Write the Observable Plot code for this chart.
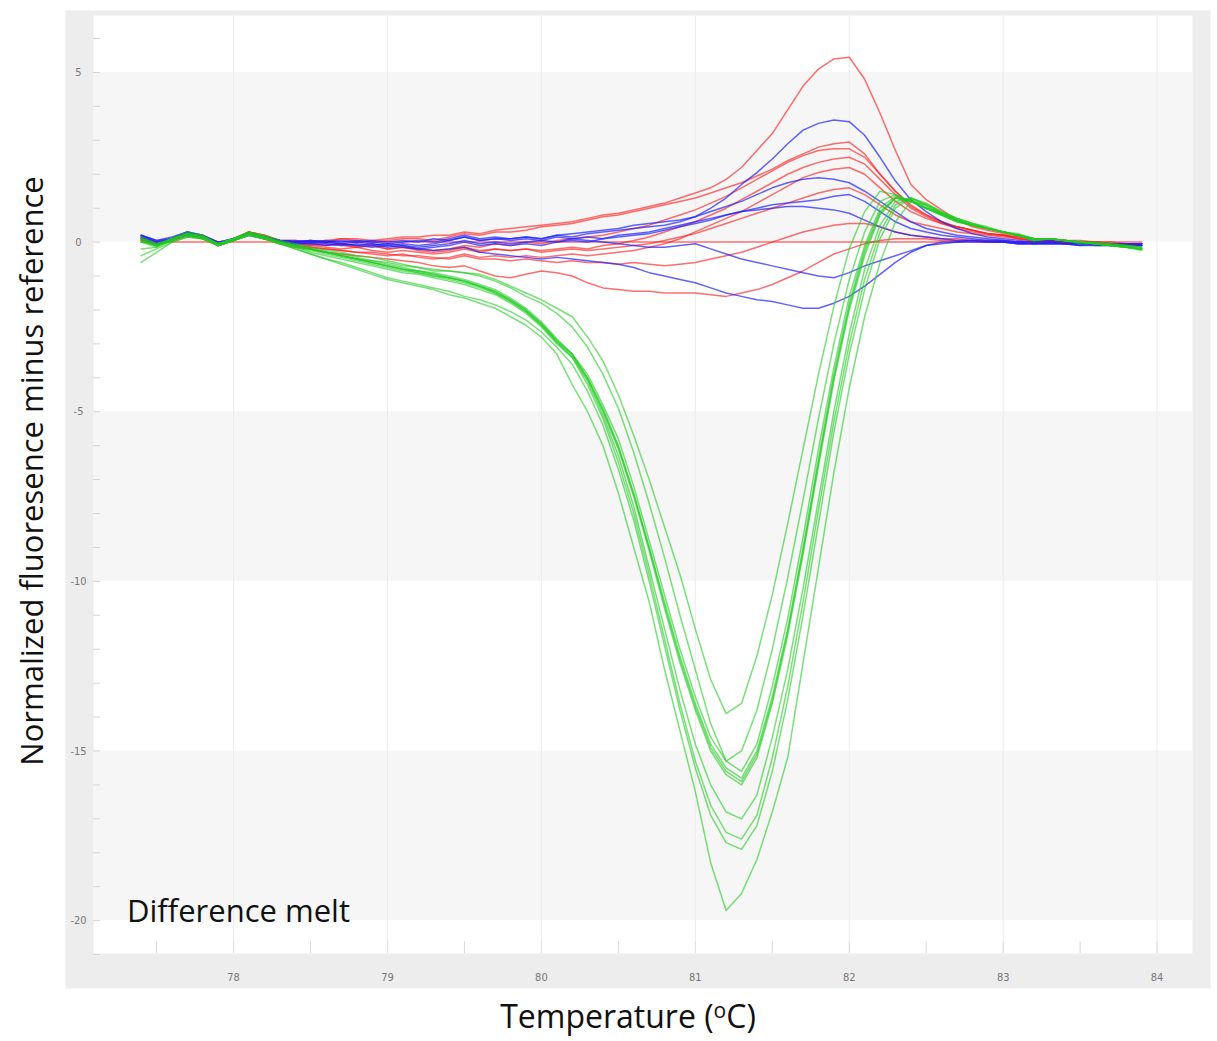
<!DOCTYPE html>
<html><head><meta charset="utf-8">
<script src="https://cdn.jsdelivr.net/npm/d3@7"></script>
<script src="https://cdn.jsdelivr.net/npm/@observablehq/plot@0.6"></script>
<style>body{margin:0;background:#fff;} #chart svg{display:block;}</style>
</head><body><div id="chart"></div>
<script>
// Temperature grid (°C)
const temps = [77.4,77.5,77.6,77.7,77.8,77.9,78.0,78.1,78.2,78.3,78.4,78.5,78.6,78.7,78.8,78.9,79.0,79.1,79.2,79.3,79.4,79.5,79.6,79.7,79.8,79.9,80.0,80.1,80.2,80.3,80.4,80.5,80.6,80.7,80.8,80.9,81.0,81.1,81.2,81.3,81.4,81.5,81.6,81.7,81.8,81.9,82.0,82.1,82.2,82.3,82.4,82.5,82.6,82.7,82.8,82.9,83.0,83.1,83.2,83.3,83.4,83.5,83.6,83.7,83.8,83.9];

// Green curves
const G1 = [-0.6,-0.3,0.0,0.15,0.1,-0.1,0.05,0.2,0.1,-0.05, -0.2,-0.35,-0.5,-0.65,-0.8,-0.95,-1.1,-1.2,-1.3,-1.4,-1.55,-1.65,-1.8,-1.95, -2.2,-2.45,-2.8,-3.3,-4.2,-5.0,-6.0,-7.4,-9.0,-10.6,-12.6,-14.4, -16.2,-18.3,-19.7,-19.2,-18.2,-16.8,-15.2,-12.4,-9.6,-6.8,-4.3,-2.2,-0.6,0.6,1.2, 1.1,0.85,0.65,0.5,0.4,0.3,0.2,0.05,0.1,0.05,0.0,-0.05,-0.1,-0.15,-0.2];
const G2 = [0.0,-0.15,0.1,0.3,0.2,-0.05,0.1,0.3,0.2,0.05, -0.05,-0.15,-0.25,-0.3,-0.4,-0.45,-0.55,-0.65,-0.75,-0.85,-0.85,-0.9,-0.95,-1.1, -1.3,-1.5,-1.7,-1.95,-2.2,-2.8,-3.5,-4.5,-5.7,-7.0,-8.4,-9.8, -11.4,-12.9,-13.9,-13.6,-12.2,-10.4,-8.3,-6.1,-3.9,-1.9,-0.2,0.9,1.5,1.4,1.2, 1.0,0.8,0.65,0.5,0.4,0.3,0.25,0.1,0.1,0.05,0.0,0.0,-0.05,-0.1,-0.15];
const G3 = [0.05,-0.1,0.05,0.25,0.2,-0.1,0.05,0.25,0.15,0.0, -0.1,-0.2,-0.3,-0.35,-0.45,-0.55,-0.6,-0.7,-0.75,-0.8,-0.85,-0.9,-1.0,-1.15, -1.35,-1.6,-1.8,-2.1,-2.5,-3.1,-3.9,-4.9,-6.2,-7.7,-9.3,-11.0, -12.6,-14.2,-15.3,-15.0,-13.8,-12.0,-9.9,-7.6,-5.2,-3.0,-1.1,0.3,1.2,1.4,1.2, 1.0,0.85,0.65,0.5,0.4,0.3,0.2,0.1,0.1,0.05,0.0,-0.05,-0.05,-0.1,-0.15];
const G4 = [0.1,-0.1,0.05,0.25,0.15,-0.05,0.1,0.25,0.15,0.0, -0.1,-0.2,-0.3,-0.4,-0.5,-0.6,-0.7,-0.8,-0.85,-0.95,-1.05,-1.15,-1.3,-1.45, -1.7,-2.0,-2.4,-2.9,-3.3,-4.0,-4.9,-6.0,-7.4,-9.0,-10.6,-12.2, -13.6,-14.8,-15.5,-15.8,-15.0,-13.4,-11.4,-9.0,-6.4,-3.9,-1.8,-0.2,0.9,1.3,1.2, 1.0,0.8,0.6,0.5,0.4,0.3,0.2,0.1,0.1,0.05,0.0,-0.05,-0.1,-0.15,-0.2];
const G5 = [0.0,-0.1,0.1,0.25,0.1,-0.05,0.1,0.3,0.15,0.0, -0.1,-0.2,-0.3,-0.4,-0.5,-0.55,-0.65,-0.75,-0.85,-0.9,-1.0,-1.1,-1.25,-1.4, -1.65,-1.95,-2.35,-2.85,-3.3,-3.9,-4.8,-5.8,-7.2,-8.8,-10.4,-12.0, -13.4,-14.6,-15.3,-15.6,-14.8,-13.1,-11.1,-8.7,-6.1,-3.7,-1.6,-0.1,1.0,1.35,1.2, 1.0,0.8,0.6,0.5,0.4,0.3,0.2,0.1,0.1,0.05,0.0,-0.05,-0.1,-0.1,-0.15];
const G6 = [0.15,-0.05,0.1,0.2,0.15,-0.05,0.1,0.25,0.15,0.0, -0.1,-0.2,-0.3,-0.4,-0.5,-0.6,-0.7,-0.8,-0.9,-1.0,-1.05,-1.15,-1.3,-1.5, -1.75,-2.05,-2.45,-2.95,-3.35,-4.05,-5.0,-6.1,-7.5,-9.1,-10.8,-12.4, -13.8,-15.0,-15.7,-16.0,-15.2,-13.6,-11.6,-9.2,-6.6,-4.1,-2.0,-0.4,0.8,1.3,1.25, 1.05,0.85,0.65,0.5,0.4,0.3,0.2,0.1,0.1,0.05,0.0,-0.05,-0.1,-0.15,-0.2];
const G7 = [0.05,-0.1,0.05,0.25,0.15,-0.05,0.1,0.25,0.1,0.0, -0.1,-0.2,-0.3,-0.4,-0.5,-0.6,-0.7,-0.8,-0.85,-0.95,-1.05,-1.15,-1.3,-1.45, -1.7,-2.0,-2.4,-2.9,-3.3,-4.0,-4.95,-6.05,-7.45,-9.0,-10.7,-12.3, -13.7,-14.9,-15.6,-15.9,-15.1,-13.5,-11.5,-9.1,-6.5,-4.0,-1.9,-0.3,0.85,1.3,1.2, 1.0,0.8,0.6,0.5,0.4,0.3,0.2,0.05,0.1,0.05,0.0,-0.05,-0.1,-0.15,-0.2];
const G8 = [0.1,-0.05,0.1,0.2,0.15,-0.1,0.05,0.25,0.1,0.0, -0.15,-0.25,-0.35,-0.45,-0.55,-0.65,-0.75,-0.85,-0.9,-1.0,-1.1,-1.2,-1.35,-1.5, -1.75,-2.05,-2.45,-2.95,-3.4,-4.1,-5.1,-6.3,-7.8,-9.6,-11.4,-13.2, -14.8,-16.0,-16.8,-17.0,-16.3,-14.6,-12.6,-10.2,-7.6,-5.0,-2.7,-0.8,0.5,1.2,1.3, 1.1,0.85,0.7,0.55,0.4,0.3,0.2,0.05,0.1,0.05,0.0,-0.05,-0.1,-0.15,-0.2];
const G9 = [-0.2,-0.15,0.05,0.2,0.1,-0.1,0.05,0.2,0.1,-0.05, -0.15,-0.3,-0.4,-0.5,-0.6,-0.7,-0.8,-0.9,-0.95,-1.05,-1.15,-1.25,-1.4,-1.55, -1.8,-2.1,-2.5,-3.0,-3.4,-4.2,-5.2,-6.5,-8.0,-9.8,-11.7,-13.6, -15.3,-16.6,-17.4,-17.6,-16.9,-15.2,-13.1,-10.6,-7.9,-5.3,-3.0,-1.1,0.3,1.1,1.3, 1.1,0.9,0.7,0.55,0.4,0.3,0.2,0.05,0.1,0.05,-0.05,-0.05,-0.1,-0.15,-0.2];
const G10 = [-0.4,-0.2,0.0,0.15,0.1,-0.1,0.05,0.2,0.1,-0.05, -0.2,-0.35,-0.5,-0.6,-0.75,-0.9,-1.05,-1.15,-1.25,-1.35,-1.45,-1.6,-1.7,-1.85, -2.05,-2.3,-2.65,-3.1,-3.6,-4.4,-5.4,-6.7,-8.2,-10.0,-11.9,-13.8, -15.5,-16.9,-17.7,-17.9,-17.2,-15.6,-13.5,-11.0,-8.3,-5.6,-3.3,-1.4,0.1,1.0,1.3, 1.15,0.9,0.7,0.55,0.45,0.3,0.2,0.1,0.1,0.05,0.0,-0.05,-0.1,-0.15,-0.25];

// Red curves
const R1 = [0.1,-0.05,0.1,0.25,0.15,-0.05,0.1,0.3,0.15,0.05, 0.05,0.0,0.05,0.1,0.1,0.05,0.1,0.15,0.15,0.2,0.2,0.3,0.25,0.35, 0.4,0.45,0.5,0.55,0.6,0.7,0.8,0.85,0.95,1.05,1.15,1.3, 1.45,1.6,1.85,2.2,2.7,3.2,3.9,4.6,5.1,5.4,5.45,4.8,3.8,2.7,1.7, 1.25,0.95,0.65,0.45,0.35,0.25,0.2,0.1,0.1,0.05,0.05,0.0,0.0,-0.05,-0.05];
const R2 = [0.15,-0.05,0.05,0.25,0.2,-0.05,0.05,0.3,0.2,0.05, 0.0,0.05,0.0,0.1,0.05,0.0,0.05,0.1,0.1,0.05,0.15,0.25,0.2,0.3, 0.3,0.35,0.45,0.5,0.55,0.65,0.75,0.8,0.9,1.0,1.1,1.2, 1.3,1.45,1.6,1.75,1.95,2.15,2.4,2.6,2.8,2.9,2.95,2.6,2.0,1.5,1.1, 0.8,0.6,0.45,0.35,0.25,0.2,0.15,0.1,0.05,0.05,0.0,0.0,-0.05,-0.05,-0.05];
const R3 = [0.1,-0.1,0.1,0.2,0.15,-0.1,0.05,0.25,0.1,0.0, -0.05,-0.1,-0.05,-0.1,-0.15,-0.1,-0.2,-0.15,-0.2,-0.25,-0.2,-0.1,-0.15,-0.05, -0.1,0.0,-0.05,0.05,0.1,0.15,0.2,0.3,0.4,0.5,0.65,0.8, 0.95,1.15,1.35,1.6,1.85,2.1,2.35,2.55,2.7,2.75,2.75,2.5,2.0,1.5,1.05, 0.8,0.6,0.45,0.35,0.25,0.2,0.1,0.05,0.05,0.0,0.0,-0.05,-0.05,-0.05,-0.1];
const R4 = [0.05,-0.05,0.1,0.3,0.15,-0.05,0.1,0.3,0.15,0.05, -0.05,-0.1,-0.15,-0.2,-0.15,-0.25,-0.3,-0.25,-0.3,-0.35,-0.3,-0.2,-0.3,-0.2, -0.25,-0.2,-0.25,-0.2,-0.15,-0.2,-0.1,-0.05,0.05,0.15,0.3,0.45, 0.6,0.8,1.0,1.25,1.5,1.75,2.0,2.2,2.35,2.45,2.5,2.3,1.85,1.4,1.0, 0.75,0.55,0.45,0.35,0.25,0.2,0.15,0.1,0.05,0.05,0.0,0.0,-0.05,-0.05,-0.05];
const R5 = [0.15,0.0,0.05,0.2,0.1,-0.1,0.1,0.25,0.15,0.0, -0.1,-0.15,-0.2,-0.25,-0.3,-0.35,-0.4,-0.35,-0.45,-0.5,-0.45,-0.35,-0.45,-0.4, -0.45,-0.4,-0.45,-0.4,-0.35,-0.4,-0.35,-0.3,-0.25,-0.15,-0.05,0.1, 0.3,0.5,0.7,0.9,1.15,1.4,1.65,1.9,2.05,2.15,2.2,2.0,1.6,1.2,0.9, 0.7,0.55,0.4,0.3,0.25,0.2,0.1,0.05,0.05,0.0,0.0,-0.05,-0.05,-0.05,-0.05];
const R6 = [0.1,-0.05,0.1,0.25,0.2,0.0,0.05,0.3,0.2,0.05, 0.0,-0.05,-0.1,-0.05,-0.15,-0.1,-0.2,-0.15,-0.25,-0.3,-0.25,-0.15,-0.25,-0.2, -0.25,-0.2,-0.3,-0.25,-0.2,-0.25,-0.2,-0.15,-0.1,-0.05,0.05,0.15, 0.25,0.4,0.55,0.7,0.85,1.0,1.15,1.3,1.45,1.55,1.6,1.4,1.1,0.8,0.6, 0.5,0.4,0.3,0.25,0.2,0.15,0.1,0.05,0.05,0.0,0.0,0.0,-0.05,-0.05,-0.05];
const R7 = [0.1,-0.1,0.05,0.25,0.15,-0.05,0.1,0.25,0.1,0.0, -0.1,-0.15,-0.2,-0.25,-0.3,-0.3,-0.35,-0.4,-0.4,-0.45,-0.5,-0.4,-0.5,-0.5, -0.55,-0.5,-0.55,-0.6,-0.55,-0.6,-0.6,-0.65,-0.6,-0.65,-0.7,-0.65, -0.6,-0.5,-0.4,-0.3,-0.15,0.0,0.15,0.3,0.4,0.5,0.55,0.55,0.45,0.3,0.2, 0.15,0.1,0.1,0.05,0.05,0.05,0.0,0.0,0.0,0.0,0.0,-0.05,-0.05,-0.05,-0.05];
const R8 = [0,0,0,0,0,0,0,0,0,0, 0,0,0,0,0,0,0,0,0,0,0,0,0,0, 0,0,0,0,0,0,0,0,0,0,0,0, 0,0,0,0,0,0,0,0,0,0,0,0,0,0,0, 0,0,0,0,0,0,0,0,0,0,0,0,0,0,0];
const R9 = [0.05,-0.1,0.05,0.2,0.15,-0.1,0.05,0.25,0.1,-0.05, -0.15,-0.2,-0.3,-0.35,-0.4,-0.45,-0.5,-0.55,-0.6,-0.7,-0.75,-0.7,-0.85,-1.0, -1.05,-0.95,-0.85,-0.9,-1.0,-1.2,-1.35,-1.4,-1.45,-1.45,-1.5,-1.5, -1.5,-1.55,-1.6,-1.5,-1.4,-1.25,-1.05,-0.85,-0.6,-0.35,-0.2,-0.05,0.05,0.1,0.1, 0.1,0.05,0.05,0.05,0.05,0.0,0.0,0.0,0.0,0.0,-0.05,-0.05,-0.05,-0.05,-0.05];

// Blue curves
const B1 = [0.2,0.0,0.1,0.3,0.2,-0.05,0.1,0.25,0.15,0.05, 0.0,0.05,0.0,0.05,0.0,0.05,0.0,0.05,0.0,0.1,0.05,0.15,0.05,0.1, 0.1,0.15,0.1,0.2,0.15,0.25,0.3,0.35,0.4,0.45,0.5,0.6, 0.75,1.0,1.3,1.7,2.05,2.45,2.9,3.3,3.5,3.6,3.55,3.15,2.5,1.8,1.25, 0.9,0.6,0.4,0.25,0.15,0.1,0.05,0.0,0.05,0.0,0.0,-0.05,-0.05,-0.05,-0.05];
const B2 = [0.2,0.05,0.15,0.3,0.2,0.0,0.1,0.25,0.15,0.05, 0.05,0.0,0.05,0.0,0.05,0.0,-0.05,0.0,0.05,0.0,0.1,0.2,0.1,0.15, 0.1,0.15,0.1,0.2,0.25,0.3,0.35,0.4,0.5,0.55,0.6,0.65, 0.75,0.9,1.05,1.2,1.4,1.6,1.75,1.85,1.9,1.85,1.75,1.5,1.2,0.9,0.6, 0.4,0.3,0.2,0.15,0.1,0.05,0.0,0.0,0.0,-0.05,-0.05,-0.05,-0.05,-0.05,-0.05];
const B3 = [0.1,-0.05,0.1,0.2,0.15,-0.05,0.05,0.2,0.1,0.0, -0.05,0.0,-0.05,-0.1,-0.05,-0.1,-0.05,-0.1,-0.15,-0.1,-0.05,0.05,-0.05,0.0, -0.05,0.0,0.05,0.0,0.1,0.15,0.1,0.2,0.25,0.3,0.4,0.5, 0.6,0.7,0.8,0.9,1.0,1.1,1.15,1.2,1.25,1.35,1.4,1.2,0.9,0.6,0.4, 0.3,0.2,0.15,0.1,0.05,0.05,0.0,-0.05,0.0,-0.05,-0.05,-0.05,-0.05,-0.1,-0.1];
const B4 = [0.15,-0.05,0.05,0.25,0.15,-0.05,0.1,0.25,0.15,0.0, 0.0,-0.05,0.0,-0.05,-0.1,-0.05,-0.15,-0.1,-0.2,-0.15,-0.1,0.0,-0.1,-0.05, -0.1,-0.05,-0.1,0.0,0.05,0.0,0.1,0.15,0.2,0.25,0.35,0.45, 0.55,0.65,0.8,0.9,0.95,1.0,1.05,1.05,1.0,0.95,0.85,0.65,0.45,0.3,0.2, 0.15,0.1,0.05,0.05,0.0,0.0,-0.05,-0.05,-0.05,-0.05,-0.1,-0.05,-0.1,-0.1,-0.1];
const B5 = [0.15,0.0,0.1,0.25,0.2,0.0,0.1,0.25,0.15,0.05, 0.0,0.05,0.0,-0.05,0.0,-0.05,-0.1,-0.05,-0.1,-0.05,0.05,0.15,0.05,0.1, 0.05,0.1,0.05,0.15,0.1,0.05,0.0,-0.05,-0.1,-0.15,-0.15,-0.1, -0.05,-0.2,-0.35,-0.5,-0.6,-0.7,-0.8,-0.9,-1.0,-1.05,-0.9,-0.7,-0.55,-0.4,-0.25, -0.1,-0.05,0.0,0.0,0.0,0.0,-0.05,-0.05,-0.05,-0.05,-0.05,-0.1,-0.1,-0.1,-0.1];
const B6 = [0.2,0.05,0.1,0.3,0.15,-0.05,0.1,0.25,0.1,0.0, -0.05,-0.05,-0.1,-0.05,-0.1,-0.15,-0.1,-0.15,-0.2,-0.25,-0.2,-0.15,-0.3,-0.35, -0.4,-0.45,-0.5,-0.45,-0.5,-0.55,-0.6,-0.65,-0.75,-0.9,-1.0,-1.1, -1.2,-1.35,-1.5,-1.6,-1.7,-1.75,-1.85,-1.95,-1.95,-1.8,-1.6,-1.3,-0.95,-0.6,-0.3, -0.1,0.0,0.0,0.05,0.0,0.0,-0.05,-0.05,-0.05,-0.05,-0.1,-0.1,-0.1,-0.1,-0.1];

const redSeries = [R1,R2,R3,R4,R5,R6,R7,R8,R9];
const blueSeries = [B1,B2,B3,B4,B5,B6];
const greenSeries = [G1,G2,G3,G4,G5,G6,G7,G8,G9,G10];

// Axis ticks
const xTicks = [78,79,80,81,82,83,84];
const xHalfTicks = [77.5,78.5,79.5,80.5,81.5,82.5,83.5];
const yTicks = [5,0,-5,-10,-15,-20];
const yMinorTicks = [-21,-20,-19,-18,-17,-16,-15,-14,-13,-12,-11,-10,-9,-8,-7,-6,-5,-4,-3,-2,-1,0,1,2,3,4,5,6];
const bands = [{y1:0,y2:5},{y1:-10,y2:-5},{y1:-20,y2:-15}];

function tidy(list, prefix) {
  return list.flatMap((vals, k) => vals.map((v, i) => ({id: prefix + k, t: temps[i], v})));
}
const redRows = tidy(redSeries, "r");
const blueRows = tidy(blueSeries, "b");
const greenRows = tidy(greenSeries, "g");

const W = 1217, H = 1041;
const tickFont = "'Liberation Sans Narrow', 'DejaVu Sans Condensed', sans-serif";

const chart = Plot.plot({
  width: W, height: H,
  marginLeft: 93, marginRight: 25, marginTop: 15, marginBottom: 88,
  style: {background: "white", fontFamily: tickFont},
  x: {domain: [77.09, 84.23]},
  y: {domain: [-20.97, 6.68]},
  marks: [
    Plot.frame({fill: "#ededed", stroke: "none", insetLeft: -28, insetTop: -5, insetRight: -18, insetBottom: -35}),
    Plot.frame({fill: "#ffffff", stroke: "none"}),
    Plot.rect(bands, {y1: "y1", y2: "y2", fill: "#f6f6f6"}),
    Plot.ruleX(xTicks, {stroke: "#ececec", strokeWidth: 1}),
    Plot.tickX(xHalfTicks, {stroke: "#d8d8d8", insetTop: 926}),
    Plot.tickX(xTicks, {stroke: "#e0e0e0", insetTop: 926}),
    Plot.tickY(yMinorTicks, {stroke: "#d4d4d4", insetRight: 1092}),
    Plot.axisX(xTicks, {tickSize: 0, tickPadding: 20, fontSize: 11, fill: "#777", label: null, tickFormat: d => String(d)}),
    Plot.axisY(yTicks, {tickSize: 0, tickPadding: 15, textAnchor: "middle", fontSize: 11, fill: "#777", label: null, tickFormat: d => String(d)}),
    Plot.line(redRows, {x: "t", y: "v", z: "id", stroke: "#ff1f1f", strokeOpacity: 0.65, strokeWidth: 1.5}),
    Plot.line(blueRows, {x: "t", y: "v", z: "id", stroke: "#1f1fff", strokeOpacity: 0.7, strokeWidth: 1.5}),
    Plot.line(greenRows, {x: "t", y: "v", z: "id", stroke: "#1fcc1f", strokeOpacity: 0.6, strokeWidth: 1.5})
  ]
});

const svg = d3.select(chart);
const textFont = "'Open Sans', 'Noto Sans', sans-serif";
svg.append("text")
  .attr("x", 127).attr("y", 922)
  .attr("text-anchor", "start")
  .attr("font-family", textFont).attr("font-size", 31).attr("fill", "#111")
  .text("Difference melt");
svg.append("text")
  .attr("transform", "translate(43,471) rotate(-90)")
  .attr("text-anchor", "middle")
  .attr("font-family", textFont).attr("font-size", 31).attr("fill", "#111")
  .text("Normalized fluoresence minus reference");
const xt = svg.append("text")
  .attr("x", 628).attr("y", 1028)
  .attr("text-anchor", "middle")
  .attr("font-family", textFont).attr("font-size", 32).attr("fill", "#111");
xt.append("tspan").text("Temperature (");
xt.append("tspan").attr("font-size", 21).attr("dy", -10).text("o");
xt.append("tspan").attr("dy", 10).text("C)");

document.getElementById("chart").append(chart);
</script>
</body></html>
